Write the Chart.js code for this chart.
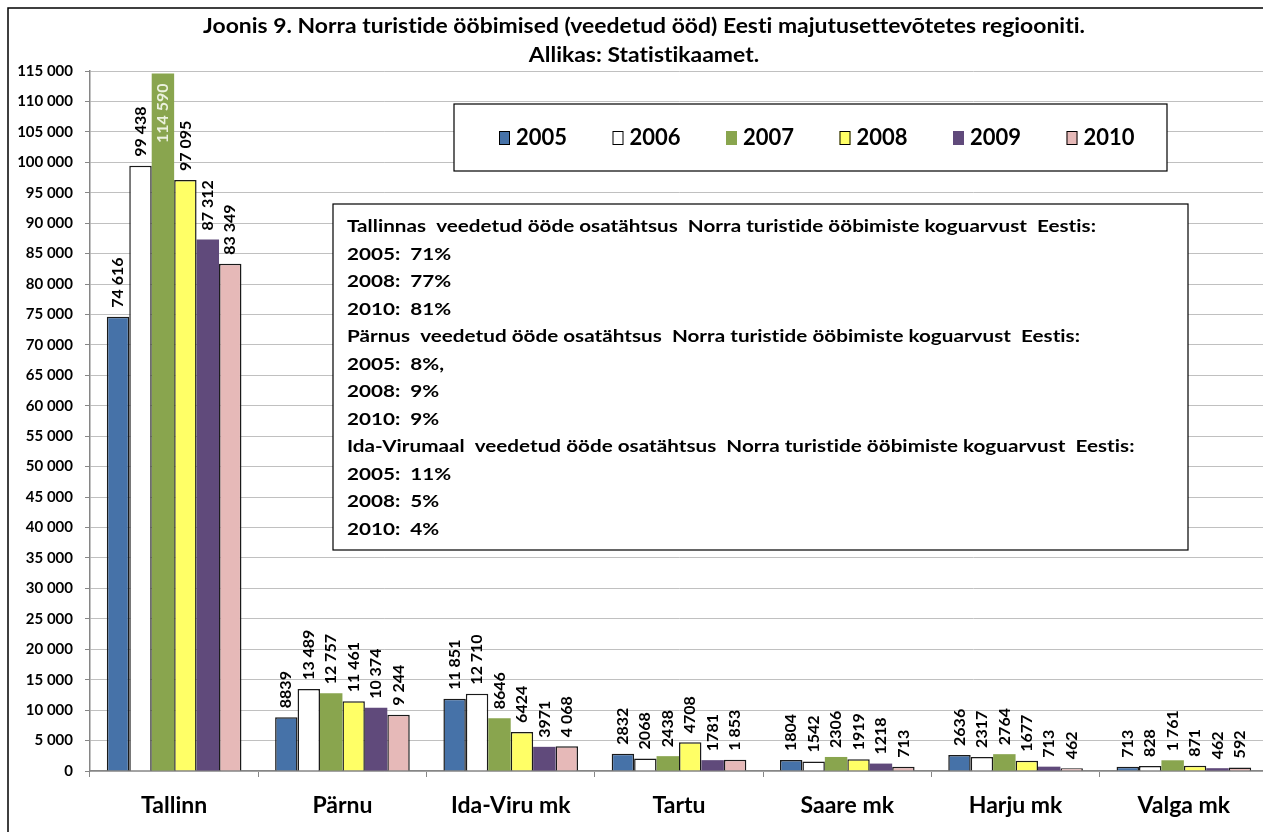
<!DOCTYPE html>
<html>
<head>
<meta charset="utf-8">
<script src="https://cdn.jsdelivr.net/npm/chart.js@4.4.0/dist/chart.umd.min.js"></script>
<style>
  html, body { margin: 0; padding: 0; background: #fff; overflow: hidden; }
  #wrap { position: relative; width: 1290px; height: 840px; }
</style>
</head>
<body>
<div id="wrap"><canvas id="joonis" width="1290" height="840"></canvas></div>
<script>
// --- Andmed (Statistikaamet) ---
const regioonid = ['Tallinn', 'Pärnu', 'Ida-Viru mk', 'Tartu', 'Saare mk', 'Harju mk', 'Valga mk'];
const aastad = ['2005', '2006', '2007', '2008', '2009', '2010'];

const v2005 = [74616, 8839, 11851, 2832, 1804, 2636, 713];
const v2006 = [99438, 13489, 12710, 2068, 1542, 2317, 828];
const v2007 = [114590, 12757, 8646, 2438, 2306, 2764, 1761];
const v2008 = [97095, 11461, 6424, 4708, 1919, 1677, 871];
const v2009 = [87312, 10374, 3971, 1781, 1218, 713, 462];
const v2010 = [83349, 9244, 4068, 1853, 713, 462, 592];

// sildid nii nagu joonisel (tuhandete eraldaja pole kõikjal ühtne)
const s2005 = ['74 616', '8839', '11 851', '2832', '1804', '2636', '713'];
const s2006 = ['99 438', '13 489', '12 710', '2068', '1542', '2317', '828'];
const s2007 = ['114 590', '12 757', '8646', '2438', '2306', '2764', '1 761'];
const s2008 = ['97 095', '11 461', '6424', '4708', '1919', '1677', '871'];
const s2009 = ['87 312', '10 374', '3971', '1781', '1218', '713', '462'];
const s2010 = ['83 349', '9 244', '4 068', '1 853', '713', '462', '592'];

const pealkiri = [
  'Joonis 9. Norra turistide ööbimised (veedetud ööd) Eesti majutusettevõtetes regiooniti.',
  'Allikas: Statistikaamet.'
];

const kommentaar = [
  'Tallinnas  veedetud ööde osatähtsus  Norra turistide ööbimiste koguarvust  Eestis:',
  '2005:  71%',
  '2008:  77%',
  '2010:  81%',
  'Pärnus  veedetud ööde osatähtsus  Norra turistide ööbimiste koguarvust  Eestis:',
  '2005:  8%,',
  '2008:  9%',
  '2010:  9%',
  'Ida-Virumaal  veedetud ööde osatähtsus  Norra turistide ööbimiste koguarvust  Eestis:',
  '2005:  11%',
  '2008:  5%',
  '2010:  4%'
];

const FONT = "Lato, 'Open Sans', 'DejaVu Sans', sans-serif";
const varvid = ['#4672A8', '#FFFFFF', '#89A54E', '#FFFF66', '#604A7B', '#E6B9B8'];
const piirjooned = ['#1A1A1A', '#1A1A1A', null, '#1A1A1A', null, '#1A1A1A'];
const vaartused = [v2005, v2006, v2007, v2008, v2009, v2010];
const sildid = [s2005, s2006, s2007, s2008, s2009, s2010];

function tuhanded(v) {
  return String(v).replace(/\B(?=(\d{3})+(?!\d))/g, ' ');
}

// tekst venitatuna laiemaks (originaal on Exceli pilt, kirjad on laiemad)
function venitatud(ctx, txt, x, y, sx) {
  ctx.save();
  ctx.translate(x, y);
  ctx.scale(sx, 1);
  ctx.fillText(txt, 0, 0);
  ctx.restore();
}

// raam + pealkiri
const raamPlugin = {
  id: 'raam',
  beforeDraw(chart) {
    const ctx = chart.ctx;
    ctx.save();
    ctx.fillStyle = '#fff';
    ctx.fillRect(0, 0, chart.width, chart.height);
    ctx.strokeStyle = '#000';
    ctx.lineWidth = 1.5;
    ctx.strokeRect(8, 8, 1272, 860);
    ctx.fillStyle = '#000';
    ctx.font = 'bold 20px ' + FONT;
    ctx.letterSpacing = '0.01px';
    ctx.textAlign = 'center';
    ctx.textBaseline = 'middle';
    const sx = 882 / ctx.measureText(pealkiri[0]).width;
    venitatud(ctx, pealkiri[0], 644, 27, sx);
    venitatud(ctx, pealkiri[1], 644, 56, sx);
    ctx.restore();
  }
};

// väärtuste sildid tulpade kohal (pööratud)
const sildidPlugin = {
  id: 'sildid',
  afterDatasetsDraw(chart) {
    const ctx = chart.ctx;
    const top = chart.chartArea.top;
    ctx.save();
    ctx.font = 'bold 16px ' + FONT;
    ctx.textBaseline = 'middle';
    chart.data.datasets.forEach((ds, di) => {
      const meta = chart.getDatasetMeta(di);
      meta.data.forEach((bar, i) => {
        const txt = sildid[di][i];
        const w = ctx.measureText(txt).width;
        ctx.save();
        ctx.translate(bar.x, bar.y);
        ctx.rotate(-Math.PI / 2);
        if (bar.y - 9 - w < top) {
          // ei mahu üles - kirjutame tulba sisse
          ctx.fillStyle = '#EBF1DE';
          ctx.textAlign = 'right';
          ctx.fillText(txt, -10, 0);
        } else {
          ctx.fillStyle = '#000';
          ctx.textAlign = 'left';
          ctx.fillText(txt, 9, 0);
        }
        ctx.restore();
      });
    });
    ctx.restore();
  }
};

// legend ja kommentaarikast
const kastidPlugin = {
  id: 'kastid',
  afterDraw(chart) {
    const ctx = chart.ctx;
    ctx.save();
    // legend
    ctx.fillStyle = '#fff';
    ctx.fillRect(454, 104, 713, 67);
    ctx.strokeStyle = '#000';
    ctx.lineWidth = 1.2;
    ctx.strokeRect(454, 104, 713, 67);
    ctx.font = 'bold 22px ' + FONT;
    ctx.textBaseline = 'middle';
    ctx.textAlign = 'left';
    chart.data.datasets.forEach((ds, i) => {
      const x = 499 + i * 113.5;
      ctx.fillStyle = ds.backgroundColor;
      ctx.fillRect(x, 131, 11, 14);
      if (ds.borderWidth) {
        ctx.strokeStyle = '#000';
        ctx.lineWidth = 1;
        ctx.strokeRect(x + 0.5, 131.5, 10, 13);
      }
      ctx.fillStyle = '#000';
      ctx.fillText(ds.label, x + 17, 138);
    });
    // kommentaar
    ctx.fillStyle = '#fff';
    ctx.fillRect(333, 204, 855, 346);
    ctx.strokeStyle = '#000';
    ctx.lineWidth = 1.2;
    ctx.strokeRect(333, 204, 855, 346);
    ctx.fillStyle = '#000';
    ctx.font = 'bold 17px ' + FONT;
    ctx.letterSpacing = '0.01px';
    const sx = 749 / ctx.measureText(kommentaar[0]).width;
    kommentaar.forEach((rida, i) => {
      venitatud(ctx, rida, 347, 227 + i * 27.5, sx);
    });
    ctx.restore();
  }
};

const ctx = document.getElementById('joonis');
new Chart(ctx, {
  type: 'bar',
  data: {
    labels: regioonid,
    datasets: aastad.map((a, i) => ({
      label: a,
      data: vaartused[i],
      backgroundColor: varvid[i],
      borderColor: piirjooned[i] || varvid[i],
      borderWidth: piirjooned[i] ? 1.5 : 0,
      categoryPercentage: 0.8,
      barPercentage: 1.0
    }))
  },
  options: {
    responsive: false,
    devicePixelRatio: 1,
    animation: false,
    layout: { padding: { top: 71, left: 0, right: 22, bottom: 8 } },
    plugins: {
      legend: { display: false },
      title: { display: false },
      tooltip: { enabled: false }
    },
    scales: {
      x: {
        afterFit: s => { s.height = 61; },
        grid: {
          offset: true,
          drawOnChartArea: false,
          drawTicks: true,
          tickLength: 6,
          color: '#868686'
        },
        border: { color: '#868686', width: 1.5 },
        ticks: {
          color: '#000',
          padding: 15,
          font: { family: FONT, size: 23, weight: 'bold' }
        }
      },
      y: {
        min: 0,
        max: 115000,
        afterFit: s => { s.width = 90; },
        grid: {
          color: '#C0C0C0',
          tickColor: '#868686',
          tickLength: 5,
          lineWidth: 1
        },
        border: { color: '#868686', width: 1.5 },
        ticks: {
          stepSize: 5000,
          color: '#000',
          padding: 12,
          font: { family: FONT, size: 15, weight: 'bold' },
          callback: v => tuhanded(v)
        }
      }
    }
  },
  plugins: [raamPlugin, sildidPlugin, kastidPlugin]
});
</script>
</body>
</html>
